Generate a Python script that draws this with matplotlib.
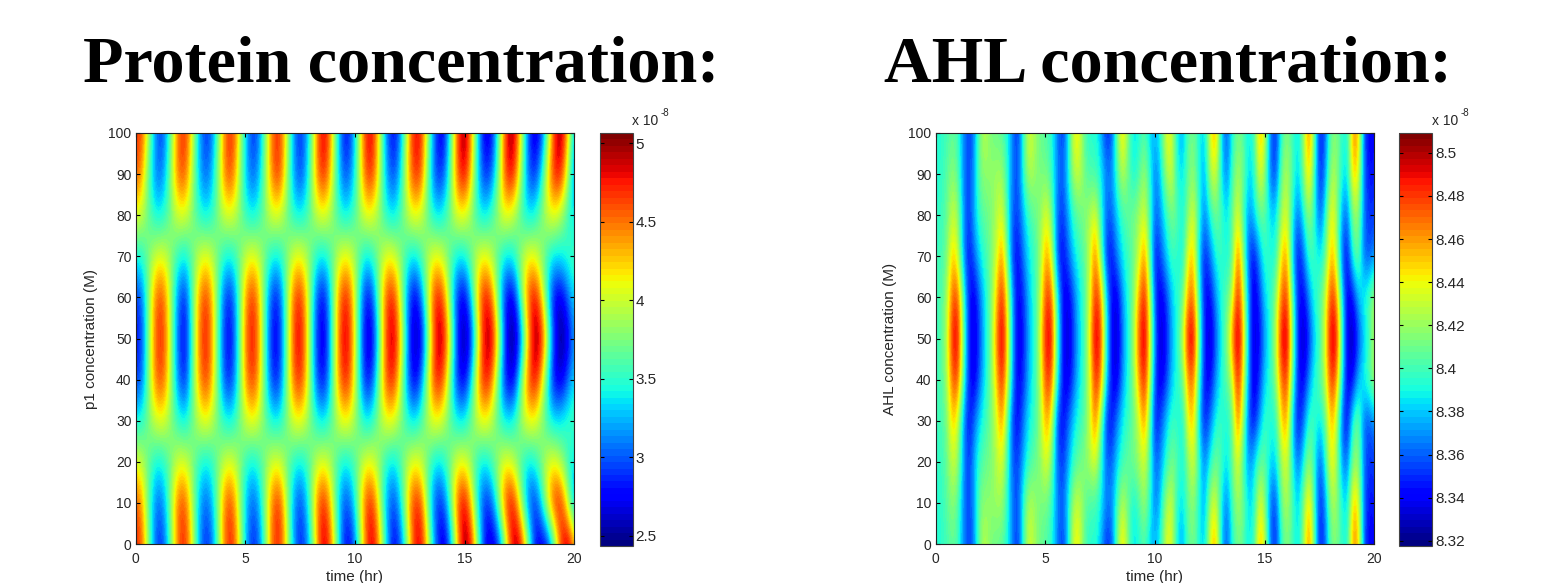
import numpy as np
import matplotlib
matplotlib.use('Agg')
import matplotlib.pyplot as plt

W, H = 1545, 583

# tiempo y posiciones de las filas
time_hr = [i / 4 for i in range(81)]
rows_y = [0, 10, 20, 30, 40, 50, 60, 70, 80, 90, 100]

# p1, en centesimas de 1e-8 M
p1_y00 = [472,457,399,332,291,297,344,412,463,469,425,357,304,287,312,370,437,472,457,399,332,291,291,332,399,457,472,437,370,312,287,304,354,
          432,483,476,418,340,286,276,314,385,458,487,458,385,314,276,290,345,423,479,480,427,348,291,
          263,294,368,455,499,479,405,320,269,264,284,351,439,496,488,423,336,275,265,275,336,423,488,496,439]
p1_y10 = [460,441,382,331,304,317,360,421,461,456,409,350,311,304,331,382,441,465,441,382,331,304,311,350,409,456,
          471,426,358,310,295,323,378,445,475,452,392,331,297,307,347,412,465,471,426,358,310,295,326,384,449,475,
          459,385,320,286,295,343,417,476,482,432,356,302,285,310,370,446,486,469,402,331,289,295,343,417,469,486,446,370,310]
p1_y20 = [404,396,375,352,340,346,365,388,403,401,384,361,344,340,352,375,396,404,396,375,352,340,346,365,388,403,401,384,361,344,340,352,375,396,404,396,375,352,340,346,365,
          390,407,404,386,359,340,338,354,381,402,408,395,370,346,336,346,370,395,408,402,381,354,338,343,364,390,407,404,386,359,340,338,354,381,402,408,395,370,346,336]
p1_y30 = [344,349,368,391,405,404,388,365,347,343,363,387,404,407,393,370,349,342,352,374,397,409,403,382,358,343,
          343,362,388,407,409,394,369,347,339,350,374,399,411,405,383,357,340,
          350,373,397,410,404,384,359,342,341,361,387,406,409,395,370,348,339,346,
          371,396,410,406,386,360,341,338,353,384,406,412,399,373,349,337,338,348,357,360]
p1_y40 = [288,301,355,420,460,457,412,347,297,287,341,409,457,465,424,360,303,283,311,373,438,469,452,395,328,285,
          287,339,411,463,471,429,359,297,275,305,373,443,477,459,397,323,278,
          291,351,425,472,470,418,344,285,270,307,378,450,480,457,392,317,273,273,
          325,403,467,481,442,367,297,264,279,348,428,479,477,422,343,281,263,275,311,334]
p1_y50 = [280,295,353,424,468,464,415,345,290,279,339,411,464,472,429,359,297,275,305,373,443,477,459,397,324,277,
          279,336,414,471,480,433,358,291,267,299,373,449,486,467,399,319,269,
          269,328,414,478,491,441,360,285,257,273,343,433,492,488,429,339,270,254,
          278,362,451,498,485,412,321,258,250,291,375,462,503,477,398,308,253,253,275,320]
p1_y100 = [467,461,411,345,299,299,345,411,461,467,423,357,306,290,314,370,435,469,455,397,333,294,296,338,403,457,468,430,365,310,290,314,
           369,444,484,466,402,327,282,288,341,416,474,480,431,354,296,277,304,369,444,484,466,402,327,282,
           273,328,411,481,496,447,362,291,265,286,352,438,494,486,422,337,277,265,296,368,452,497,477,404,321]

# AHL, en milesimas por encima de 8.3e-8 M
ahl_y00 = [92,95,100,108,100,68,52,68,115,130,112,108,106,92,65,50,100,138,122,108,105,95,70,50,78,135,145,105,92,95,
           78,48,55,110,152,115,82,92,105,80,
           78,95,140,135,85,72,108,112,90,82,140,160,85,55,92,112,105,85,100,160,
           130,62,48,98,115,100,82,120,172,105,42,62,110,115,95,90,165,155,60,38,45]
ahl_y10 = [92,96,105,118,105,68,52,72,112,118,118,122,122,95,62,55,100,128,120,112,112,100,70,56,85,125,132,112,100,100,
           90,68,68,100,130,108,88,102,122,95,
           62,85,125,135,90,85,110,118,88,72,128,135,88,62,100,125,112,82,90,142,
           115,58,55,112,128,100,80,115,155,95,45,70,122,122,90,85,155,140,62,42,48]
ahl_y20 = [95,98,108,132,122,72,50,78,100,108,112,125,137,100,58,55,78,98,108,116,138,118,66,50,70,95,108,114,124,138,
           100,62,60,82,98,108,112,122,135,100,
           60,72,95,112,105,88,118,136,95,66,92,112,100,84,110,138,100,68,85,108,
           105,84,85,125,135,90,62,90,120,92,55,95,145,125,70,62,115,118,65,50,55]
ahl_y30 = [98,100,112,152,130,72,42,62,86,98,112,130,165,108,50,40,68,88,98,118,160,140,62,38,58,82,94,105,128,170,
           118,52,42,68,88,98,108,130,165,105,
           42,58,82,100,92,88,145,150,78,44,65,92,98,88,105,172,120,55,40,72,
           100,90,95,150,158,78,40,62,100,98,85,108,155,130,58,40,100,112,60,55,70]
ahl_y40 = [100,102,122,175,178,105,48,34,62,88,110,150,188,140,72,38,50,80,95,125,178,180,102,48,32,56,82,98,130,185,
           170,90,42,32,70,92,115,160,190,130,
           52,34,50,80,95,108,165,165,95,42,40,70,92,105,130,190,140,68,32,52,
           85,95,120,172,180,105,48,38,68,95,105,130,185,165,90,36,40,78,92,108,130]
ahl_y50 = [100,102,128,188,195,110,50,30,58,86,112,160,205,150,72,32,48,78,94,132,192,195,108,50,28,52,80,98,140,200,
           185,96,42,28,66,90,118,175,205,140,
           62,28,46,76,92,130,195,198,105,45,28,58,88,112,165,208,155,68,30,42,
           74,92,130,195,202,115,46,24,50,80,98,140,200,195,98,38,24,54,78,96,128]

# la banda de arriba es casi el espejo de la de abajo
p1_table = [p1_y00, p1_y10, p1_y20, p1_y30, p1_y40, p1_y50, p1_y40, p1_y30, p1_y20, p1_y10, p1_y100]
ahl_table = [ahl_y00, ahl_y10, ahl_y20, ahl_y30, ahl_y40, ahl_y50, ahl_y40, ahl_y30, ahl_y20, ahl_y10, ahl_y00]
p1_data = np.array(p1_table) / 100
ahl_data = 8.3 + np.array(ahl_table) / 1000

x_ticks = [0, 5, 10, 15, 20]
y_ticks = [0, 10, 20, 30, 40, 50, 60, 70, 80, 90, 100]
p1_cbar_ticks = [2.5, 3, 3.5, 4, 4.5, 5]
p1_cbar_labels = ['2.5', '3', '3.5', '4', '4.5', '5']
ahl_cbar_ticks = [8.32, 8.34, 8.36, 8.38, 8.4, 8.42, 8.44, 8.46, 8.48, 8.5]
ahl_cbar_labels = ['8.32', '8.34', '8.36', '8.38', '8.4', '8.42', '8.44', '8.46', '8.48', '8.5']

plt.rcParams['font.family'] = ['Liberation Sans', 'DejaVu Sans']
plt.rcParams['font.size'] = 10
LABEL_COLOR = '#262626'
jet64 = plt.get_cmap('jet', 64)


def px_box(x0, y0, x1, y1):
    return [x0 / W, 1 - y1 / H, (x1 - x0) / W, (y1 - y0) / H]


def panel(fig, data, clim, left, cbar_left, ylabel, ylabel_x, cticks, clabels):
    ax = fig.add_axes(px_box(left, 133, left + 438.6, 544))
    dt = time_hr[1] - time_hr[0]
    dy = rows_y[1] - rows_y[0]
    extent = [time_hr[0] - dt / 2, time_hr[-1] + dt / 2, rows_y[0] - dy / 2, rows_y[-1] + dy / 2]
    im = ax.imshow(data, origin='lower', extent=extent, aspect='auto', cmap=jet64,
                   vmin=clim[0], vmax=clim[1], interpolation='bicubic', interpolation_stage='data')
    ax.set_xlim(0, 20)
    ax.set_ylim(0, 100)
    ax.set_xticks(x_ticks)
    ax.set_yticks(y_ticks)
    ax.tick_params(direction='in', top=True, right=True, length=3, width=0.8,
                   labelsize=10, labelcolor=LABEL_COLOR)
    ax.tick_params(axis='x', pad=6)
    ax.tick_params(axis='y', pad=3)
    ax.set_xlabel('time (hr)', color=LABEL_COLOR, fontsize=11, labelpad=3)
    fig.text(ylabel_x / W, 1 - 339 / H, ylabel, rotation=90, ha='center', va='center',
             color=LABEL_COLOR, fontsize=11)
    for s in ax.spines.values():
        s.set_linewidth(0.8)
        s.set_color('#222222')

    cax = fig.add_axes(px_box(cbar_left, 133, cbar_left + 33, 546))
    cb = fig.colorbar(im, cax=cax)
    cb.set_ticks(cticks, labels=clabels)
    cax.tick_params(direction='in', left=True, right=True, length=3, width=0.8, pad=2,
                    labelsize=11, labelcolor=LABEL_COLOR)
    cb.outline.set_linewidth(0.8)
    cb.outline.set_edgecolor('#444444')

    fig.text((cbar_left + 33) / W, 1 - 125 / H, 'x 10', fontsize=10, color=LABEL_COLOR, va='baseline')
    fig.text((cbar_left + 33 + 28) / W, 1 - 116 / H, '-8', fontsize=7, color=LABEL_COLOR, va='baseline')
    return ax


fig = plt.figure(figsize=(W / 100, H / 100), dpi=100)
panel(fig, p1_data, (2.436, 5.065), 135.7, 599.5, 'p1 concentration (M)', 91, p1_cbar_ticks, p1_cbar_labels)
panel(fig, ahl_data, (8.3176, 8.5092), 935.7, 1399.3, 'AHL concentration (M)', 890, ahl_cbar_ticks, ahl_cbar_labels)

fig.text(83 / W, 1 - 81 / H, 'Protein concentration:', family='Liberation Serif', weight='bold',
         fontsize=47.6, color='black', va='baseline')
fig.text(884 / W, 1 - 81 / H, 'AHL concentration:', family='Liberation Serif', weight='bold',
         fontsize=47.6, color='black', va='baseline')

plt.savefig('out.png', dpi=100)
